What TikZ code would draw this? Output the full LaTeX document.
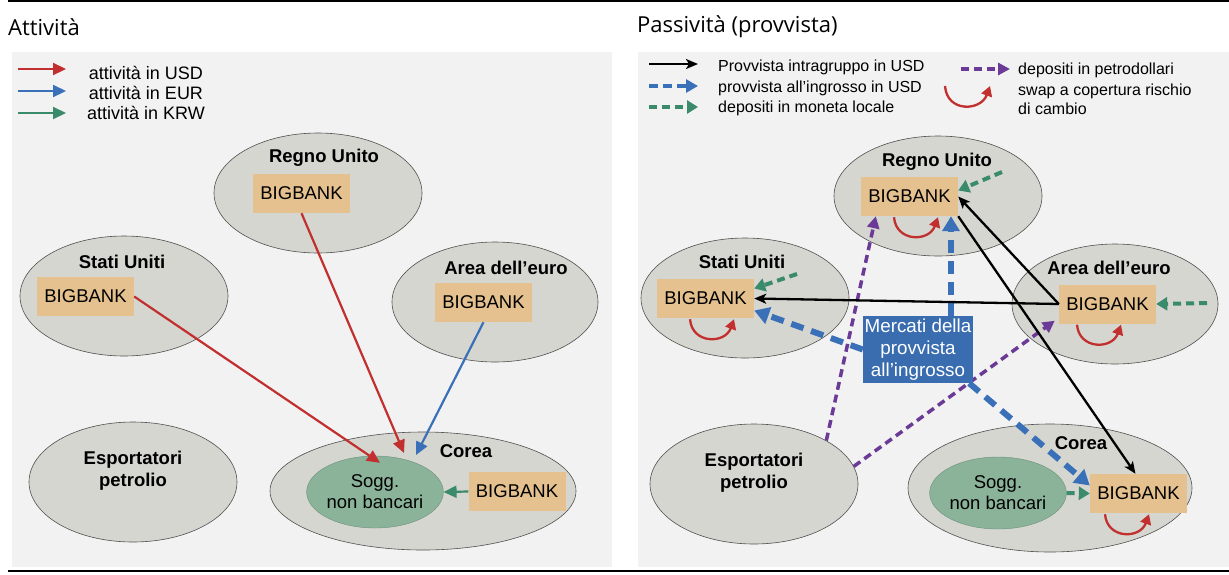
\documentclass[tikz,border=0pt]{standalone}
\usepackage{fontspec}
\setmainfont{Liberation Sans}
\newfontfamily\titlefont{Open Sans}
\usetikzlibrary{shapes.geometric,arrows.meta,calc}
\definecolor{panelgray}{HTML}{F2F2F2}
\definecolor{ellfill}{HTML}{D6D6D0}
\definecolor{ellline}{HTML}{505050}
\definecolor{bankfill}{HTML}{E4C18E}
\definecolor{soggfill}{HTML}{8AB39A}
\definecolor{cred}{HTML}{C1302E}
\definecolor{cblue}{HTML}{3A70B8}
\definecolor{cgreen}{HTML}{3A8A6C}
\definecolor{cpurple}{HTML}{6B3A96}
\definecolor{merfill}{HTML}{3A6DB0}
\tikzset{
  panel/.style={fill=panelgray, draw=none},
  region/.style={ellipse, draw=ellline, line width=0.6pt, fill=ellfill, inner sep=0pt},
  bank/.style={fill=bankfill, minimum width=97pt, minimum height=39pt, inner sep=0pt, font=\fontsize{18.5}{20}\selectfont},
  rlabel/.style={font=\bfseries\fontsize{18.5}{22}\selectfont, inner sep=0pt, align=center},
  sogg/.style={ellipse, fill=soggfill, draw=soggfill!80!black, line width=0.4pt, inner sep=0pt, align=center, font=\fontsize{18.5}{21}\selectfont},
  lgtext/.style={font=\fontsize{18}{20}\selectfont, inner sep=0pt},
  rgtext/.style={font=\fontsize{16}{19}\selectfont, inner sep=0pt, anchor=west, align=left},
  ttl/.style={font=\titlefont\fontsize{22}{24}\selectfont, inner sep=0pt, anchor=west},
  usd/.style={draw=cred, line width=2.2pt, -{Triangle[length=13pt,width=12pt]}},
  eur/.style={draw=cblue, line width=2.2pt, -{Triangle[length=13pt,width=12pt]}},
  krw/.style={draw=cgreen, line width=2.2pt, -{Triangle[length=13pt,width=12pt]}},
  intra/.style={draw=black, line width=2.3pt, -{Stealth[length=12pt,width=10pt,inset=3pt]}},
  whole/.style={draw=cblue, line width=6pt, dash pattern=on 13pt off 8pt, -{Triangle[length=15pt,width=17pt]}},
  local/.style={draw=cgreen, line width=4pt, dash pattern=on 8pt off 5pt, -{Triangle[length=11pt,width=13pt]}},
  petro/.style={draw=cpurple, line width=3.5pt, dash pattern=on 8pt off 5pt, -{Triangle[length=12pt,width=12pt]}},
  swaparr/.style={draw=cred, line width=2.3pt, -{Triangle[length=10pt,width=11pt]}},
  mercati/.style={fill=merfill, text=white, minimum width=110pt, minimum height=67pt, inner sep=0pt, align=center, font=\fontsize{18.8}{22}\selectfont}
}
\newcommand\swapunder[3]{%
  \coordinate (#3a) at ([shift={(#2,1)}]#1.south);
  \coordinate (#3b) at ([shift={(#2+44,1)}]#1.south);
  \draw[swaparr] (#3a) .. controls +(2,25) and +(-9,25) .. (#3b);}
\begin{document}
\begin{tikzpicture}[x=1pt,y=-1pt]
\useasboundingbox (0,0) rectangle (1229,574);
% frame lines
\draw[line width=2pt] (8,1) -- (1229,1);
\draw[line width=2.5pt] (8,571) -- (1229,571);
% titles
\node[ttl] (t1) at (8,27) {Attività};
\node[ttl] (t2) at (637,27) {Passività (provvista)};
% panels
\fill[panel] (12,52) rectangle (612,567);
\fill[panel] (638,52) rectangle (1229,567);

% ================= LEFT PANEL =================
\coordinate (la1) at (18,69);  \coordinate (lb1) at (66,69);
\coordinate (la2) at (18,91);  \coordinate (lb2) at (66,91);
\coordinate (la3) at (18,113); \coordinate (lb3) at (66,113);
\draw[usd] (la1) -- (lb1);
\draw[eur] (la2) -- (lb2);
\draw[krw] (la3) -- (lb3);
\node[lgtext] (lt1) at (146,73) {attività in USD};
\node[lgtext] (lt2) at (146,93) {attività in EUR};
\node[lgtext] (lt3) at (146,113) {attività in KRW};

\node[region, minimum width=208pt, minimum height=120pt] (ukL) at (318,193) {};
\node[region, minimum width=208pt, minimum height=120pt] (usL) at (124,296) {};
\node[region, minimum width=206pt, minimum height=120pt] (euL) at (495,302) {};
\node[region, minimum width=208pt, minimum height=120pt] (exL) at (133,482) {};
\node[region, minimum width=306pt, minimum height=118pt] (koL) at (423,491) {};
\node[sogg, minimum width=128pt, minimum height=72pt] (sogL) at (375,492) {Sogg.\\non bancari};

\node[rlabel] (ukLl) at (324,158) {Regno Unito};
\node[rlabel] (usLl) at (122,262) {Stati Uniti};
\node[rlabel] (euLl) at (506,268) {Area dell’euro};
\node[rlabel] (exLl) at (133,471) {Esportatori\\petrolio};
\node[rlabel] (koLl) at (466,451) {Corea};

\node[bank] (ukLb) at (301.5,193.5) {BIGBANK};
\node[bank] (usLb) at (85.5,296.5) {BIGBANK};
\node[bank] (euLb) at (483.5,302.5) {BIGBANK};
\node[bank] (koLb) at (517,491.5) {BIGBANK};

\coordinate (ukLend) at (404,453);
\coordinate (euLend) at (416,455);
\draw[usd] (usLb.east) -- ([shift={(5,7)}]sogL.north);
\draw[usd] (ukLb.south) -- (ukLend);
\draw[eur] (euLb.south) -- (euLend);
\draw[krw] (koLb.west) -- (sogL.east);

% ================= RIGHT PANEL =================
% legend
\coordinate (ra1) at (649,64);  \coordinate (rb1) at (698,64);
\coordinate (ra2) at (649,86);  \coordinate (rb2) at (698,86);
\coordinate (ra3) at (649,107); \coordinate (rb3) at (698,107);
\coordinate (ra4) at (961,69);  \coordinate (rb4) at (1010,69);
\draw[intra] (ra1) -- (rb1);
\draw[whole, line width=4pt, dash pattern=on 9pt off 5pt, -{Triangle[length=12pt,width=13pt]}] (ra2) -- (rb2);
\draw[local] (ra3) -- (rb3);
\draw[petro] (ra4) -- (rb4);
\coordinate (rsa) at (945,86); \coordinate (rsb) at (990,86);
\draw[swaparr] (rsa) .. controls +(2,27) and +(-9,25) .. (rsb);
\node[rgtext] (rt1) at (718,67) {Provvista intragruppo in USD};
\node[rgtext] (rt2) at (718,88) {provvista all’ingrosso in USD};
\node[rgtext] (rt3) at (718,108) {depositi in moneta locale};
\node[rgtext] (rt4) at (1018,70) {depositi in petrodollari};
\node[rgtext] (rt5) at (1018,99) {swap a copertura rischio\\di cambio};

\node[region, minimum width=208pt, minimum height=120pt] (ukR) at (938,196) {};
\node[region, minimum width=208pt, minimum height=120pt] (usR) at (745,298) {};
\node[region, minimum width=206pt, minimum height=120pt] (euR) at (1115,304) {};
\node[region, minimum width=208pt, minimum height=120pt] (exR) at (754,484) {};
\node[region, minimum width=284pt, minimum height=128pt] (koR) at (1050,488) {};
\node[sogg, minimum width=122pt, minimum height=72pt] (sogR) at (998,493) {Sogg.\\non bancari};

\node[rlabel] (ukRl) at (937,162) {Regno Unito};
\node[rlabel] (usRl) at (742,262) {Stati Uniti};
\node[rlabel] (euRl) at (1109,268) {Area dell’euro};
\node[rlabel] (exRl) at (754,473) {Esportatori\\petrolio};
\node[rlabel] (koRl) at (1081,443) {Corea};

\node[bank] (ukRb) at (909.5,196.5) {BIGBANK};
\node[bank] (usRb) at (705.5,298.5) {BIGBANK};
\node[bank] (euRb) at (1107.5,304) {BIGBANK};
\node[bank] (koRb) at (1138.5,493.5) {BIGBANK};

% swap arrows
\swapunder{ukRb}{-15.5}{swu}
\swapunder{usRb}{-15.5}{sws}
\swapunder{euRb}{-30.5}{swe}
\swapunder{koRb}{-33.5}{swk}

% petrodollar deposits
\draw[petro] (exR.31) -- ([xshift=15]ukRb.south west);
\draw[petro] (exR.10) -- ([shift={(-4,-3)}]euRb.south west);

% local deposits
\coordinate (gu) at (1002,172);
\coordinate (gs) at (797,274);
\coordinate (ge) at (1207,303);
\draw[local] (gu) -- ([yshift=6pt]ukRb.east);
\draw[local] (gs) -- ([yshift=10pt]usRb.east);
\draw[local] (ge) -- (euRb.east);
\draw[local] (sogR.east) -- (koRb.west);

% wholesale funding
\node[mercati] (mer) at (918,349.5) {Mercati della\\provvista\\all’ingrosso};
\draw[whole] ([xshift=33]mer.north) -- ([xshift=41.5]ukRb.south);
\draw[whole] (mer.west) -- ([yshift=-12pt]usRb.east);
\draw[whole] ([xshift=-4]mer.south east) -- ([yshift=8pt]koRb.west);

% intragroup funding
\draw[intra] (euRb.west) -- (usRb.east);
\draw[intra] (euRb.west) -- (ukRb.east);
\draw[intra] (ukRb.south east) -- ([xshift=-3]koRb.north);
\end{tikzpicture}
\end{document}
